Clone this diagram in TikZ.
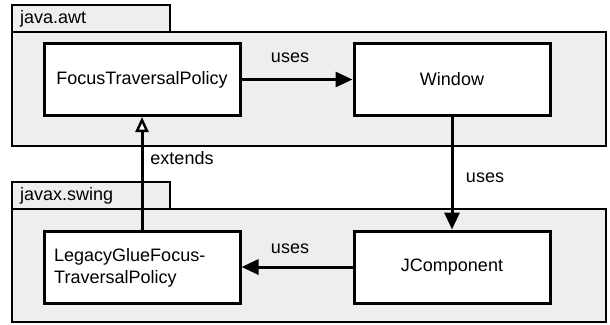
\documentclass[tikz,border=0pt]{standalone}
\usepackage{fontspec}
\setmainfont{Liberation Sans}
\usetikzlibrary{arrows.meta}
\definecolor{pkgfill}{HTML}{EEEEEE}
\tikzset{
  pkg/.style={draw=black, line width=1.6pt, fill=pkgfill},
  cls/.style={draw=black, line width=3pt, fill=white, minimum width=196pt, minimum height=72pt, inner sep=0pt, font=\fontsize{18}{22}\selectfont},
  lbl/.style={font=\fontsize{18}{22}\selectfont, inner sep=0pt},
  uses/.style={line width=3pt, -{Triangle[length=17pt,width=15pt]}},
  ext/.style={line width=3pt, -{Triangle[open,length=15pt,width=13pt,fill=white,line width=2.5pt]}}
}
\begin{document}
\begin{tikzpicture}[x=1pt,y=-1pt]
\useasboundingbox (0,0) rectangle (610,324);
% java.awt package
\draw[pkg] (12,5) rectangle (170,32);
\draw[pkg] (12,32) rectangle (606,146);
\node[lbl, anchor=west] (awt) at (20,19) {java.awt};
% javax.swing package
\draw[pkg] (12,182) rectangle (170,209);
\draw[pkg] (12,209) rectangle (606,322);
\node[lbl, anchor=west] (swing) at (20,196) {javax.swing};
% classes
\node[cls] (ftp) at (142,79.5) {FocusTraversalPolicy};
\node[cls] (win) at (452,79.5) {Window};
\node[cls] (lgf) at (142,267) {};
\node[lbl, anchor=west, align=left] (lgftext) at (54,268) {LegacyGlueFocus-\\TraversalPolicy};
\node[cls] (jc) at (452,267) {JComponent};
% connectors
\draw[uses] (ftp.east) -- (win.west);
\draw[uses] (win.south) -- (jc.north);
\draw[uses] (jc.west) -- (lgf.east);
\draw[ext] (lgf.north) -- (ftp.south);
% labels
\node[lbl] (u1) at (290,58) {uses};
\node[lbl] (u2) at (485,178) {uses};
\node[lbl] (u3) at (290,249) {uses};
\node[lbl] (ex) at (182,158) {extends};
\end{tikzpicture}
\end{document}
